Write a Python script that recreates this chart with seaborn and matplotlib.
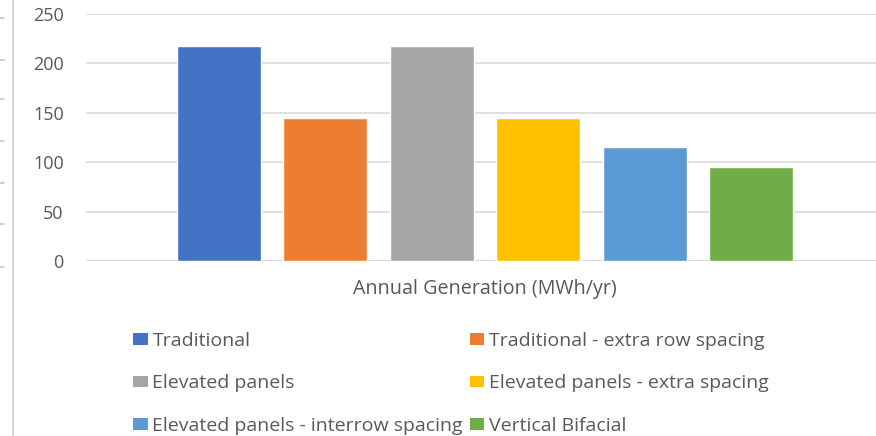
import matplotlib
matplotlib.use("Agg")
import matplotlib.pyplot as plt
from matplotlib.lines import Line2D
from matplotlib.patches import Patch
import pandas as pd
import seaborn as sns

# Annual generation by array configuration
category = ["Annual Generation (MWh/yr)"]
series = [
    "Traditional",
    "Traditional - extra row spacing",
    "Elevated panels",
    "Elevated panels - extra spacing",
    "Elevated panels - interrow spacing",
    "Vertical Bifacial",
]
generation = [218, 145, 218, 145, 115, 95]
colors = ["#4472C4", "#ED7D31", "#A5A5A5", "#FFC000", "#5B9BD5", "#70AD47"]
y_ticks = [0, 50, 100, 150, 200, 250]

df = pd.DataFrame({
    "category": category * len(series),
    "series": series,
    "value": generation,
})

sns.set_theme(style="white")
plt.rcParams["font.family"] = ["Open Sans", "DejaVu Sans"]
text_color = "#595959"
grid_color = "#D9D9D9"

W, H = 876, 436
fig = plt.figure(figsize=(W / 100, H / 100), dpi=100)
fig.patch.set_facecolor("white")

ax = fig.add_axes([86 / W, 175 / H, 798 / W, 247 / H])
sns.barplot(
    data=df, x="category", y="value", hue="series", hue_order=series,
    palette=colors, saturation=1, width=0.8, gap=0.21, legend=False, ax=ax,
)

ax.set_xlim(-0.5, 0.5)
ax.set_ylim(0, 250)
ax.set_yticks(y_ticks)
ax.set_yticklabels([str(v) for v in y_ticks])
ax.yaxis.grid(True, color=grid_color, linewidth=1.2)
ax.set_axisbelow(True)
for s in ax.spines.values():
    s.set_visible(False)
ax.axhline(0, color=grid_color, linewidth=1.2, zorder=0.5)
ax.set_xlabel("")
ax.set_ylabel("")
ax.tick_params(axis="y", length=0, pad=16, labelsize=13, labelcolor=text_color)
ax.tick_params(axis="x", length=0, pad=13, labelsize=14.2, labelcolor=text_color)

# Legend laid out row by row in two columns
order = [0, 2, 4, 1, 3, 5]
handles = [Patch(facecolor=colors[i], edgecolor="none") for i in order]
labels = [series[i] for i in order]
fig.legend(
    handles, labels, ncol=2, loc="upper left",
    bbox_to_anchor=(133 / W, 1 - 332 / H), frameon=False,
    fontsize=14, labelcolor=text_color,
    handlelength=0.75, handleheight=0.55, handletextpad=0.25,
    columnspacing=0.35, labelspacing=1.25, borderpad=0, borderaxespad=0,
)

# Neighbouring axis edge on the far left
fig.add_artist(Line2D([13 / W, 13 / W], [0, 1], transform=fig.transFigure,
                      color="#D0D0D0", linewidth=1.2))
for yp in [18, 60, 99, 141, 183, 224, 267]:
    fig.add_artist(Line2D([0, 4 / W], [1 - yp / H] * 2, transform=fig.transFigure,
                          color="#C8C8C8", linewidth=1.2))

fig.savefig("out.png", dpi=100, facecolor="white")
